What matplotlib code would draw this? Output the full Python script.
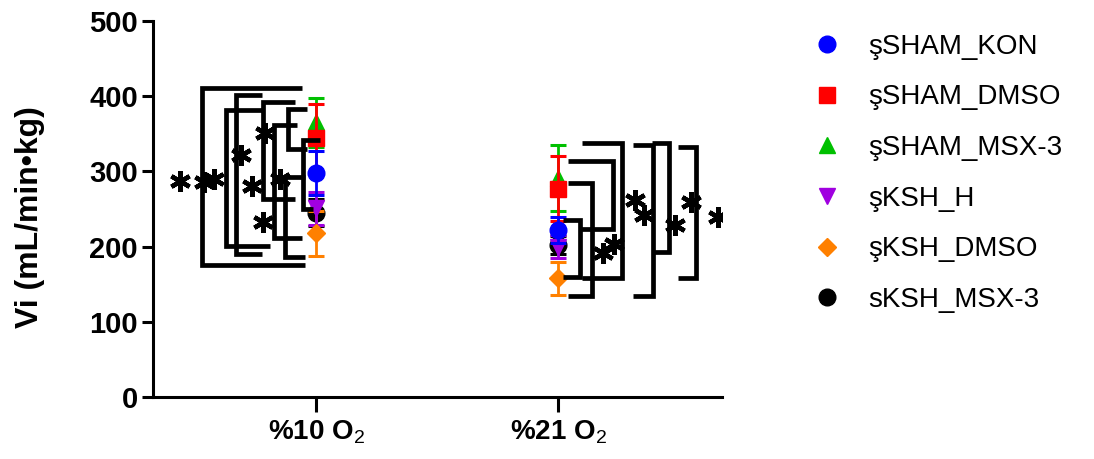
import matplotlib.pyplot as plt
from matplotlib.lines import Line2D

plt.rcParams['font.family'] = ['Liberation Sans', 'DejaVu Sans']
plt.rcParams['mathtext.fontset'] = 'custom'
plt.rcParams['mathtext.rm'] = 'Liberation Sans'

# group means and SEM at the two oxygen levels
conditions = ['%10 O$_{2}$', '%21 O$_{2}$']
groups = ['şSHAM_KON', 'şSHAM_DMSO', 'şSHAM_MSX-3', 'şKSH_H', 'şKSH_DMSO', 'sKSH_MSX-3']
sham_kon = [298, 222]
sham_kon_err = [29, 17]
sham_dmso = [344, 277]
sham_dmso_err = [46, 43]
sham_msx3 = [365, 291]
sham_msx3_err = [33, 44]
ksh_h = [251, 200]
ksh_h_err = [22, 15]
ksh_dmso = [218, 158]
ksh_dmso_err = [30, 22]
ksh_msx3 = [245, 202]
ksh_msx3_err = [18, 12]

colors = ['#0000FF', '#FF0000', '#00C000', '#A000E0', '#FF8000', '#000000']
markers = ['o', 's', '^', 'v', 'D', 'o']
msizes = [12, 11, 12, 12, 9, 12]

# significance brackets, 10% O2 (open to the right): vertical x, top y, bottom y, top arm end, bottom arm end
left_x = [-0.472, -0.371, -0.332, -0.218, -0.174, -0.118, -0.128, -0.056]
left_top = [410, 382, 402, 392, 361, 383, 292, 341]
left_bot = [176, 201, 191, 264, 212, 330, 186, 250]
left_end_top = [-0.059, -0.224, -0.224, -0.087, -0.080, -0.039, -0.045, 0.017]
left_end_bot = [-0.045, -0.190, -0.224, -0.087, -0.059, -0.039, -0.045, -0.011]

# significance brackets, 21% O2 (open to the left)
right_x = [1.264, 1.227, 1.140, 1.091, 1.390, 1.457, 1.567]
right_top = [338, 314, 285, 236, 335, 338, 333]
right_bot = [158, 223, 135, 160, 135, 193, 158]
right_end_top = [1.097, 1.041, 1.041, 1.021, 1.307, 1.385, 1.495]
right_end_bot = [1.097, 1.083, 1.041, 1.021, 1.307, 1.385, 1.495]

fig = plt.figure(figsize=(10.94, 4.59), dpi=100)
ax = fig.add_axes([0.1399, 0.134, 0.5198, 0.821])

series = [sham_kon, sham_dmso, sham_msx3, ksh_h, ksh_dmso, ksh_msx3]
errs = [sham_kon_err, sham_dmso_err, sham_msx3_err, ksh_h_err, ksh_dmso_err, ksh_msx3_err]
xs = list(range(len(conditions)))

# last series first so the first one ends up on top
for i in reversed(range(len(series))):
    ax.errorbar(xs, series[i], yerr=errs[i], fmt=markers[i], color=colors[i],
                ms=msizes[i], elinewidth=2, capsize=6, capthick=2.2,
                zorder=3 + (len(series) - i) * 0.1)

bw = 3.4
star_dx = 0.091
star = dict(marker=(6, 2, 0), ms=15, mew=3.2, color='black', zorder=6)
for x, t, b, et, eb in zip(left_x, left_top, left_bot, left_end_top, left_end_bot):
    ax.plot([et, x, x, eb], [t, t, b, b], color='black', lw=bw,
            solid_joinstyle='miter', solid_capstyle='butt', zorder=5)
    ax.plot(x - star_dx, (t + b) / 2 - 6, **star)
for x, t, b, et, eb in zip(right_x, right_top, right_bot, right_end_top, right_end_bot):
    ax.plot([et, x, x, eb], [t, t, b, b], color='black', lw=bw,
            solid_joinstyle='miter', solid_capstyle='butt', zorder=5)
    ax.plot(x + star_dx, (t + b) / 2 - 6, **star)

ax.set_xlim(-0.673, 1.674)
ax.set_ylim(0, 500)
ax.set_yticks([0, 100, 200, 300, 400, 500])
ax.set_xticks(xs)
ax.set_xticklabels(conditions, fontsize=20, fontweight='bold')
for lab in ax.get_yticklabels():
    lab.set_fontsize(21)
    lab.set_fontweight('bold')
ax.tick_params(axis='y', width=2.2, length=8, pad=3)
ax.tick_params(axis='x', width=2.2, length=11, pad=4)
for s in ['top', 'right']:
    ax.spines[s].set_visible(False)
for s in ['left', 'bottom']:
    ax.spines[s].set_linewidth(2.2)
ax.set_ylabel('Vi (mL/min•kg)', fontsize=23, fontweight='bold')
ax.yaxis.set_label_coords(-0.19, 0.48)
ax.patch.set_alpha(0)

handles = [Line2D([], [], ls='none', marker=markers[i], color=colors[i], ms=msizes[i])
           for i in range(len(groups))]
fig.legend(handles, groups, loc='upper left', bbox_to_anchor=(0.743, 0.927),
           frameon=False, fontsize=20, handlelength=1.0, handletextpad=1.0,
           labelspacing=0.89, borderpad=0, borderaxespad=0)

fig.savefig('out.png', dpi=100)
